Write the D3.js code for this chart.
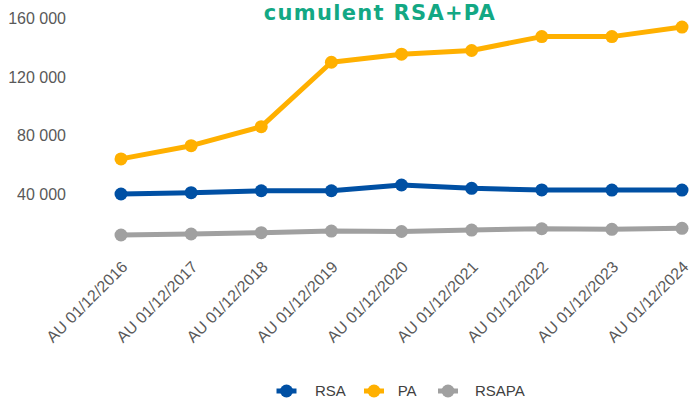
<!DOCTYPE html>
<html><head><meta charset="utf-8">
<script src="https://cdn.jsdelivr.net/npm/d3@7"></script>
<style>body{margin:0;background:#fff}svg{display:block}</style>
</head><body>
<script>
const categories = ["AU 01/12/2016","AU 01/12/2017","AU 01/12/2018","AU 01/12/2019","AU 01/12/2020","AU 01/12/2021","AU 01/12/2022","AU 01/12/2023","AU 01/12/2024"];
const rsa   = [40000, 40900, 42250, 42250, 46150, 43900, 42800, 42700, 42700];
const pa    = [64000, 73000, 86000, 130000, 135500, 138000, 147500, 147500, 154000];
const rsapa = [12000, 12700, 13600, 14700, 14400, 15400, 16300, 15900, 16600];
const seriesNames = ["RSA", "PA", "RSAPA"];
const seriesColors = ["#0050a4", "#ffb000", "#a0a0a0"];
const yTicks = [40000, 80000, 120000, 160000];
const title = "cumulent RSA+PA";

const W = 692, H = 401;
const svg = d3.select("body").append("svg").attr("width", W).attr("height", H);

const x = d3.scalePoint().domain(categories).range([121, 682]);
const y = d3.scaleLinear().domain([0, 160000]).range([252.6, 18.3]);

const fmt = v => d3.format(",")(v).replace(/,/g, " ");
const FONT = "Liberation Sans, Arial, sans-serif";

// y axis labels
const yAxis = d3.axisLeft(y).tickValues(yTicks).tickFormat(fmt).tickSize(0).tickPadding(0);
const gy = svg.append("g").attr("transform", "translate(66,0)").call(yAxis);
gy.select(".domain").remove();
gy.selectAll("text").attr("font-family", FONT).attr("font-size", 16).attr("fill", "#595959");

// x axis labels
const xAxis = d3.axisBottom(x).tickSize(0).tickPadding(0);
const gx = svg.append("g").attr("transform", "translate(0,262)").call(xAxis);
gx.select(".domain").remove();
gx.selectAll("text")
  .attr("font-family", FONT).attr("font-size", 16).attr("fill", "#595959")
  .attr("text-anchor", "end").attr("dy", "0.35em").attr("x", 0).attr("y", 0)
  .attr("transform", "translate(3,2) rotate(-45)");

const data = [rsa, pa, rsapa];
const line = d3.line().x((d, i) => x(categories[i])).y(d => y(d));

data.forEach((vals, si) => {
  const g = svg.append("g");
  g.append("path").datum(vals).attr("d", line).attr("fill", "none")
    .attr("stroke", seriesColors[si]).attr("stroke-width", 5).attr("stroke-linejoin", "round");
  g.selectAll("circle").data(vals).join("circle")
    .attr("cx", (d, i) => x(categories[i])).attr("cy", d => y(d)).attr("r", 6.5)
    .attr("fill", seriesColors[si]);
});

// title
svg.append("text").attr("x", 380).attr("y", 20).attr("text-anchor", "middle")
  .attr("font-family", "DejaVu Sans, sans-serif").attr("font-weight", "bold").attr("font-size", 21)
  .attr("letter-spacing", 1.3)
  .attr("fill", "#13a884").text(title);

// legend
const legX = [286.5, 374, 448];
const legTextX = [28.5, 23.7, 27];
const legend = svg.append("g");
seriesNames.forEach((n, i) => {
  const g = legend.append("g").attr("transform", `translate(${legX[i]},391)`);
  g.append("line").attr("x1", -10).attr("x2", 10).attr("stroke", seriesColors[i]).attr("stroke-width", 5);
  g.append("circle").attr("r", 6.5).attr("fill", seriesColors[i]);
  g.append("text").attr("x", legTextX[i]).attr("dy", "0.35em")
    .attr("font-family", FONT).attr("font-size", 15).attr("fill", "#404040").text(n);
});
</script>
</body></html>
